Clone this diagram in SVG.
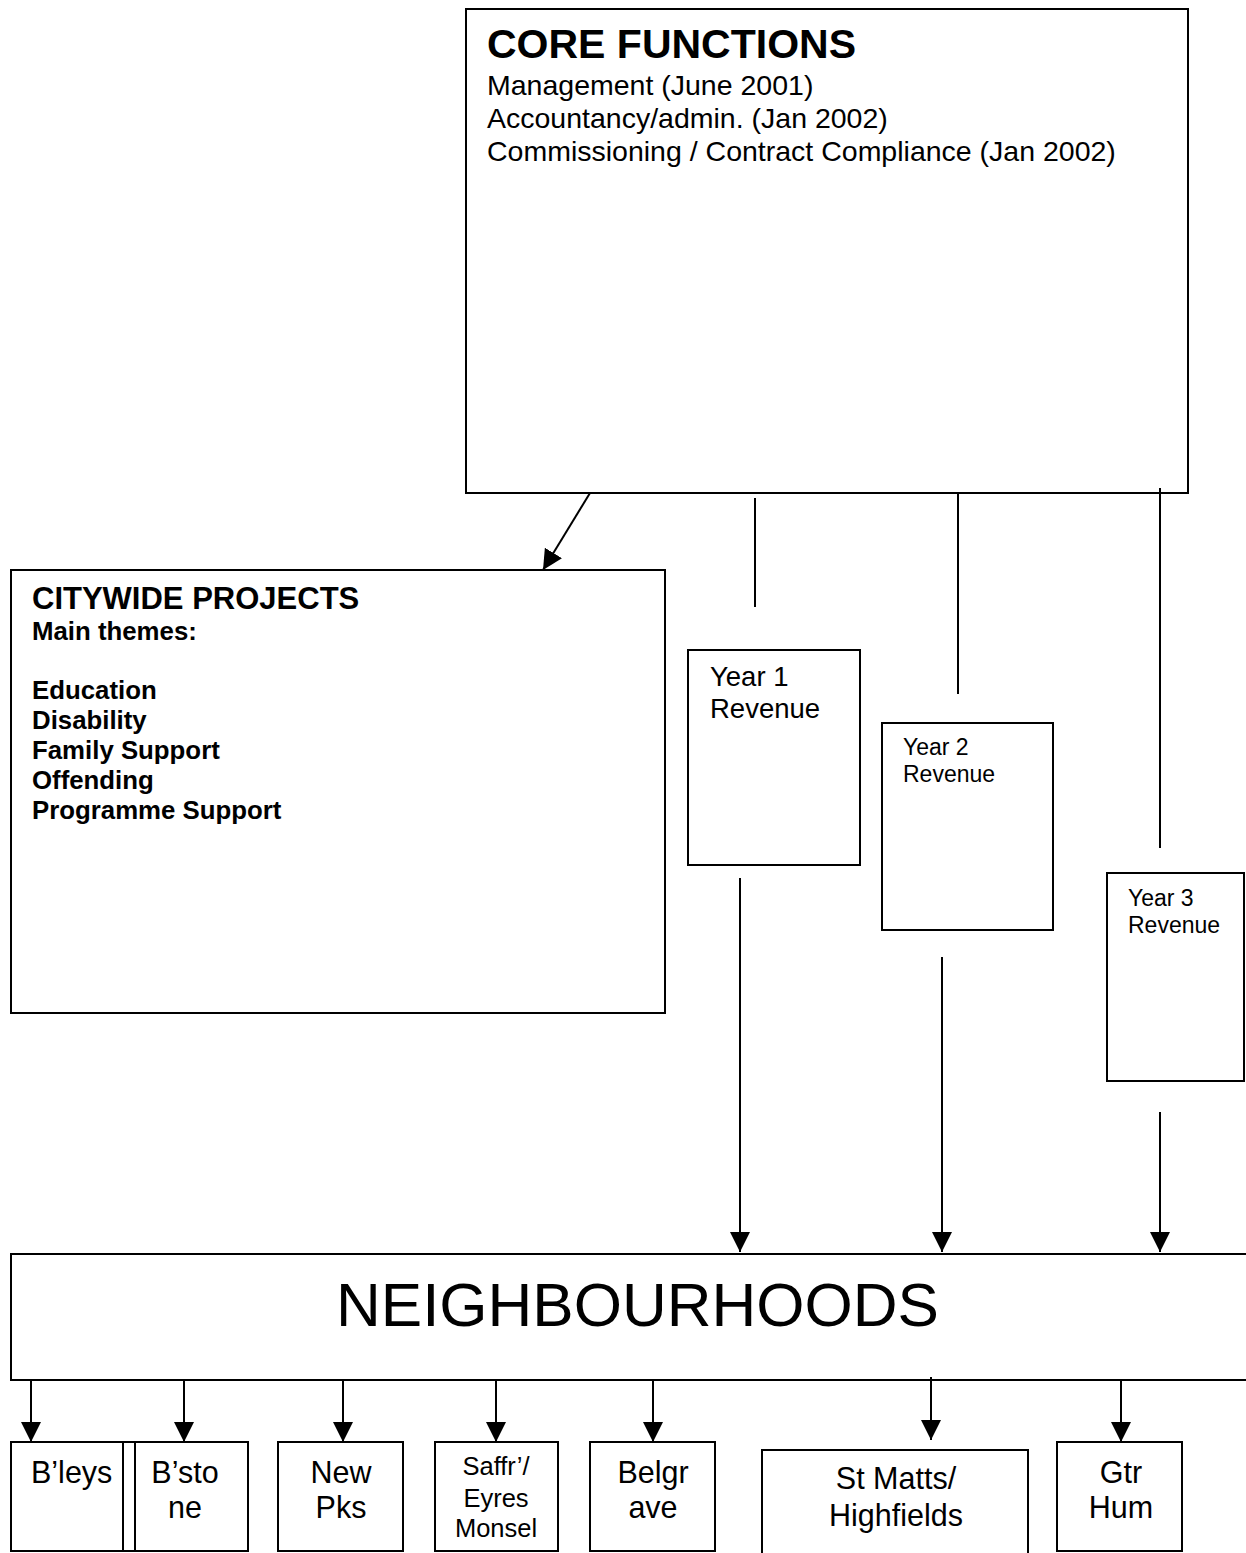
<svg xmlns="http://www.w3.org/2000/svg" width="1246" height="1553" viewBox="0 0 1246 1553">
<style>
  .box { fill: #ffffff; stroke: #000000; stroke-width: 2; }
  .open { fill: none; stroke: #000000; stroke-width: 2; }
  .t { font-family: "Liberation Sans", Arial, sans-serif; fill: #000000; }
  .b { font-weight: bold; }
  .c { text-anchor: middle; }
  .ln { stroke: #000000; stroke-width: 2; fill: none; }
  .ar { stroke: #000000; stroke-width: 2; fill: none; marker-end: url(#ah); }
</style>
<defs>
  <marker id="ah" markerUnits="userSpaceOnUse" markerWidth="20" markerHeight="20" refX="20" refY="10" orient="auto" viewBox="0 0 20 20">
    <path d="M0,0 L20,10 L0,20 z" fill="#000000"/>
  </marker>
</defs>
<rect width="1246" height="1553" fill="#ffffff"/>

<g id="core">
  <rect class="box" x="466" y="9" width="722" height="484"/>
  <text class="t b" x="487" y="58" font-size="41">CORE FUNCTIONS</text>
  <text class="t" x="487" y="95" font-size="28.5">Management (June 2001)</text>
  <text class="t" x="487" y="128" font-size="28.5">Accountancy/admin. (Jan 2002)</text>
  <text class="t" x="487" y="161" font-size="28.5">Commissioning / Contract Compliance (Jan 2002)</text>
</g>

<g id="citywide">
  <rect class="box" x="11" y="570" width="654" height="443"/>
  <text class="t b" x="32" y="609" font-size="31">CITYWIDE PROJECTS</text>
  <text class="t b" x="32" y="640" font-size="25.8">Main themes:</text>
  <text class="t b" x="32" y="699" font-size="25.8">Education</text>
  <text class="t b" x="32" y="729" font-size="25.8">Disability</text>
  <text class="t b" x="32" y="759" font-size="25.8">Family Support</text>
  <text class="t b" x="32" y="789" font-size="25.8">Offending</text>
  <text class="t b" x="32" y="819" font-size="25.8">Programme Support</text>
</g>

<g id="year1">
  <rect class="box" x="688" y="650" width="172" height="215"/>
  <text class="t" x="710" y="686" font-size="27.5">Year 1</text>
  <text class="t" x="710" y="718" font-size="27.5">Revenue</text>
</g>

<g id="year2">
  <rect class="box" x="882" y="723" width="171" height="207"/>
  <text class="t" x="903" y="755" font-size="23">Year 2</text>
  <text class="t" x="903" y="782" font-size="23">Revenue</text>
</g>

<g id="year3">
  <rect class="box" x="1107" y="873" width="137" height="208"/>
  <text class="t" x="1128" y="906" font-size="23">Year 3</text>
  <text class="t" x="1128" y="933" font-size="23">Revenue</text>
</g>

<g id="neighbourhoods">
  <path class="open" d="M1247,1254 H11 V1380 H1247"/>
  <text class="t" x="336" y="1326" font-size="62">NEIGHBOURHOODS</text>
</g>

<g id="bleys">
  <rect class="box" x="11" y="1442" width="112" height="109"/>
  <rect class="box" x="123" y="1442" width="12" height="109"/>
  <text class="t" x="31" y="1483" font-size="30.5">B’leys</text>
</g>

<g id="bstone">
  <rect class="box" x="135" y="1442" width="113" height="109"/>
  <text class="t c" x="185" y="1483" font-size="30.5">B’sto</text>
  <text class="t c" x="185" y="1518" font-size="30.5">ne</text>
</g>

<g id="newpks">
  <rect class="box" x="278" y="1442" width="125" height="109"/>
  <text class="t c" x="341" y="1483" font-size="30.5">New</text>
  <text class="t c" x="341" y="1518" font-size="30.5">Pks</text>
</g>

<g id="saffron">
  <rect class="box" x="435" y="1442" width="123" height="109"/>
  <text class="t c" x="496" y="1475" font-size="25.5">Saffr’/</text>
  <text class="t c" x="496" y="1507" font-size="25.5">Eyres</text>
  <text class="t c" x="496" y="1537" font-size="25.5">Monsel</text>
</g>

<g id="belgrave">
  <rect class="box" x="590" y="1442" width="125" height="109"/>
  <text class="t c" x="653" y="1483" font-size="30.5">Belgr</text>
  <text class="t c" x="653" y="1518" font-size="30.5">ave</text>
</g>

<g id="stmatts">
  <rect class="box" x="762" y="1450" width="266" height="120"/>
  <text class="t c" x="896" y="1489" font-size="30.5">St Matts/</text>
  <text class="t c" x="896" y="1526" font-size="30.5">Highfields</text>
</g>

<g id="gtrhum">
  <rect class="box" x="1057" y="1442" width="125" height="109"/>
  <text class="t c" x="1121" y="1483" font-size="30.5">Gtr</text>
  <text class="t c" x="1121" y="1518" font-size="30.5">Hum</text>
</g>

<g id="connectors">
  <line class="ar" x1="590" y1="493" x2="543" y2="570"/>
  <line class="ln" x1="755" y1="498" x2="755" y2="607"/>
  <line class="ln" x1="958" y1="493" x2="958" y2="694"/>
  <line class="ln" x1="1160" y1="488" x2="1160" y2="848"/>
  <line class="ar" x1="740" y1="878" x2="740" y2="1252"/>
  <line class="ar" x1="942" y1="957" x2="942" y2="1252"/>
  <line class="ar" x1="1160" y1="1112" x2="1160" y2="1252"/>
  <line class="ar" x1="31" y1="1380" x2="31" y2="1442"/>
  <line class="ar" x1="184" y1="1380" x2="184" y2="1442"/>
  <line class="ar" x1="343" y1="1380" x2="343" y2="1442"/>
  <line class="ar" x1="496" y1="1380" x2="496" y2="1442"/>
  <line class="ar" x1="653" y1="1380" x2="653" y2="1442"/>
  <line class="ar" x1="931" y1="1377" x2="931" y2="1440"/>
  <line class="ar" x1="1121" y1="1380" x2="1121" y2="1442"/>
</g>
</svg>
